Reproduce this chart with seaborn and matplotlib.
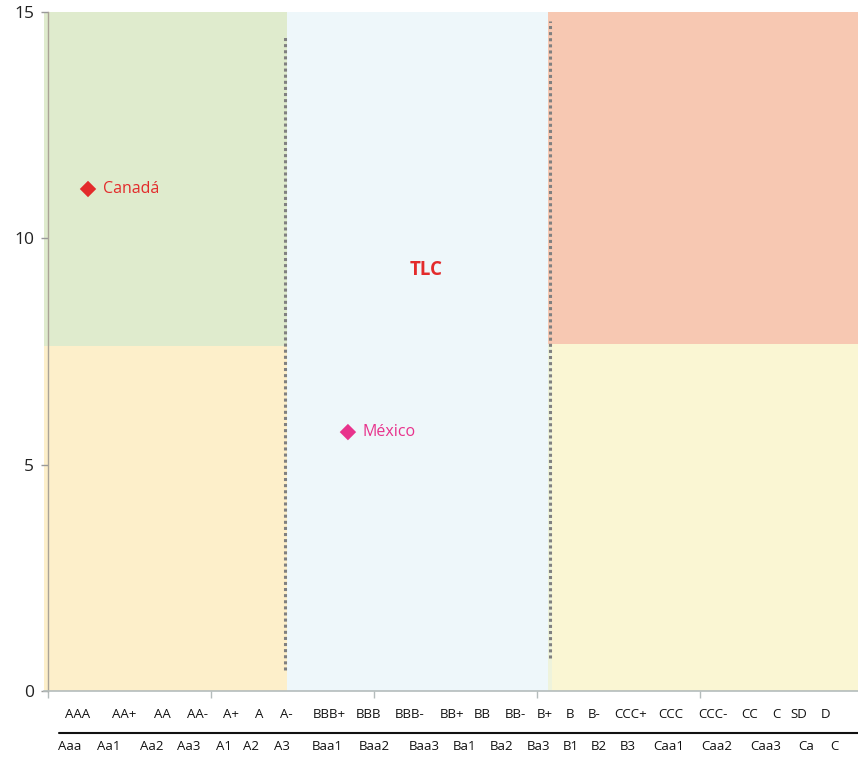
import matplotlib
matplotlib.use("Agg")
import matplotlib.pyplot as plt
import seaborn as sns
import pandas as pd

# Country positions on the rating scale (x) and the vertical measure (y)
countries = ["Canadá", "México"]
rating_score = [0.245, 1.84]
values = [11.09, 5.72]
point_colors = ["#e32b2b", "#e8338c"]

# Rating agency scales shown beneath the axis
sp_labels = ["AAA", "AA+", "AA", "AA-", "A+", "A", "A-", "BBB+", "BBB", "BBB-",
             "BB+", "BB", "BB-", "B+", "B", "B-", "CCC+", "CCC", "CCC-", "CC",
             "C", "SD", "D"]
sp_pos = [0.178, 0.466, 0.699, 0.914, 1.123, 1.294, 1.460, 1.724, 1.969, 2.221,
          2.479, 2.663, 2.865, 3.049, 3.202, 3.350, 3.577, 3.822, 4.080, 4.307,
          4.472, 4.607, 4.773]
moodys_labels = ["Aaa", "Aa1", "Aa2", "Aa3", "A1", "A2", "A3", "Baa1", "Baa2",
                 "Baa3", "Ba1", "Ba2", "Ba3", "B1", "B2", "B3", "Caa1", "Caa2",
                 "Caa3", "Ca", "C"]
moodys_pos = [0.135, 0.374, 0.638, 0.865, 1.080, 1.245, 1.436, 1.712, 2.000,
              2.307, 2.558, 2.785, 3.012, 3.209, 3.380, 3.558, 3.810, 4.104,
              4.405, 4.650, 4.828]

# Zone boundaries
x_min, x_max = -0.025, 4.97
left_edge, right_edge = 1.466, 3.067
split_left, split_right = 7.63, 7.66

sns.set_theme(style="white")
plt.rcParams["font.family"] = ["Open Sans", "DejaVu Sans"]

fig = plt.figure(figsize=(8.58, 7.58), dpi=100)
ax = fig.add_axes([44 / 858, 1 - 691 / 758, 1 - 44 / 858, (691 - 12) / 758])
ax.set_xlim(x_min, x_max)
ax.set_ylim(0, 15)

# Background zones
ax.fill_between([x_min, left_edge], 0, split_left, color="#fdefca", lw=0, zorder=0)
ax.fill_between([x_min, left_edge], split_left, 15, color="#dfebcd", lw=0, zorder=0)
ax.fill_between([left_edge, right_edge], 0, 15, color="#eef7fa", lw=0, zorder=0)
ax.fill_between([right_edge, 3.092], 0, split_right, color="#eef3dc", lw=0, zorder=0)
ax.fill_between([3.092, x_max], 0, split_right, color="#faf6d3", lw=0, zorder=0)
ax.fill_between([right_edge, x_max], split_right, 15, color="#f7c8b2", lw=0, zorder=0)

# Dotted separators
ax.plot([1.454, 1.454], [0.46, 14.5], color="#808080", lw=2.2,
        linestyle=(0, (1, 1)), solid_capstyle="butt", zorder=2)
ax.plot([3.083, 3.083], [0.74, 14.8], color="#808080", lw=2.2,
        linestyle=(0, (1, 1)), solid_capstyle="butt", zorder=2)

df = pd.DataFrame({"pais": countries, "x": rating_score, "y": values})
sns.scatterplot(data=df, x="x", y="y", hue="pais", palette=point_colors,
                marker="D", s=70, linewidth=0, legend=False, ax=ax, zorder=3)
for name, xv, yv, c in zip(countries, rating_score, values, point_colors):
    ax.text(xv + 0.092, yv, name, color=c, fontsize=11.5, va="center", ha="left")

ax.text(2.319, 9.30, "TLC", color="#e32b2b", fontsize=13.5, fontweight="bold",
        ha="center", va="center")

# Axes styling
for side in ["top", "right"]:
    ax.spines[side].set_visible(False)
ax.spines["left"].set_position(("data", 0))
ax.spines["left"].set_color("#aaa397")
ax.spines["left"].set_linewidth(1)
ax.spines["bottom"].set_color("#b4bcbc")
ax.spines["bottom"].set_linewidth(1.2)
ax.set_yticks([0, 5, 10, 15])
ax.set_xticks([0, 1, 2, 3, 4])
ax.set_xticklabels([])
ax.tick_params(axis="y", direction="out", length=5, width=1, color="#999999",
               labelsize=12.5, labelcolor="#222222", pad=5, left=True)
ax.tick_params(axis="x", direction="out", length=5, width=1, color="#b4bcbc",
               bottom=True)
ax.set_xlabel("")
ax.set_ylabel("")

# Rating scales beneath the axis
trans = ax.get_xaxis_transform()
for lab, xp in zip(sp_labels, sp_pos):
    ax.text(xp, -0.0339, lab, transform=trans, ha="center", va="center",
            fontsize=9.5, color="#111111", clip_on=False)
for lab, xp in zip(moodys_labels, moodys_pos):
    ax.text(xp, -0.082, lab, transform=trans, ha="center", va="center",
            fontsize=9.5, color="#111111", clip_on=False)
ax.plot([0.067, x_max], [-0.0619, -0.0619], transform=trans, color="#111111",
        lw=1.5, clip_on=False)

fig.savefig("out.png", dpi=100)
